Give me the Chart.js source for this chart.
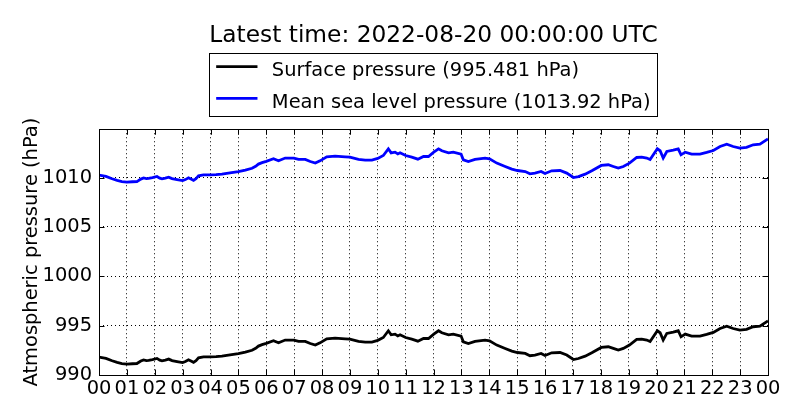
<!DOCTYPE html>
<html>
<head>
<meta charset="utf-8">
<title>Atmospheric pressure</title>
<script src="https://cdn.jsdelivr.net/npm/chart.js"></script>
<style>
  html, body { margin: 0; padding: 0; background: #fff; }
  #wrap { width: 800px; height: 420px; }
</style>
</head>
<body>
<div id="wrap"><canvas id="pressureChart" width="800" height="420"></canvas></div>
<script>
// hours since 2022-08-19 00:00 UTC
const hours = [
  0.00, 0.25, 0.47, 0.65, 0.82, 1.00, 1.20, 1.36, 1.50, 1.60, 1.70, 1.78, 1.92, 2.08, 2.18, 2.26,
  2.38, 2.50, 2.62, 2.80, 3.00, 3.10, 3.21, 3.30, 3.39, 3.48, 3.57, 3.75, 4.00, 4.20, 4.41, 4.70,
  5.00, 5.25, 5.49, 5.62, 5.72, 5.85, 6.00, 6.26, 6.44, 6.68, 6.99, 7.16, 7.40, 7.58, 7.76, 7.93,
  8.17, 8.47, 8.83, 9.00, 9.31, 9.55, 9.79, 10.00, 10.20, 10.38, 10.48, 10.62, 10.72, 10.80, 11.00, 11.22,
  11.44, 11.64, 11.82, 12.01, 12.18, 12.30, 12.54, 12.71, 12.99, 13.07, 13.25, 13.49, 13.85, 14.01, 14.27, 14.57,
  14.81, 15.01, 15.29, 15.46, 15.64, 15.86, 16.00, 16.24, 16.54, 16.78, 17.02, 17.20, 17.44, 17.68, 18.02, 18.27,
  18.45, 18.63, 18.81, 19.03, 19.29, 19.47, 19.65, 19.77, 20.03, 20.13, 20.24, 20.37, 20.60, 20.78, 20.88, 21.03,
  21.26, 21.56, 21.80, 22.04, 22.28, 22.52, 22.75, 22.99, 23.23, 23.47, 23.71, 24.00
];

const surfacePressure = [
  991.81, 991.68, 991.44, 991.28, 991.16, 991.11, 991.14, 991.16, 991.41, 991.53, 991.46, 991.48, 991.56, 991.68, 991.51, 991.44,
  991.51, 991.61, 991.46, 991.36, 991.26, 991.36, 991.54, 991.41, 991.28, 991.46, 991.74, 991.84, 991.84, 991.86, 991.91, 992.04,
  992.16, 992.31, 992.51, 992.71, 992.93, 993.08, 993.21, 993.47, 993.26, 993.54, 993.54, 993.40, 993.40, 993.19, 993.03, 993.26,
  993.67, 993.74, 993.67, 993.64, 993.40, 993.33, 993.33, 993.51, 993.80, 994.48, 994.07, 994.14, 993.96, 994.07, 993.80, 993.64,
  993.43, 993.70, 993.70, 994.14, 994.48, 994.28, 994.07, 994.14, 993.94, 993.36, 993.19, 993.40, 993.54, 993.47, 993.03, 992.69,
  992.42, 992.28, 992.18, 991.95, 992.02, 992.18, 991.98, 992.25, 992.28, 992.02, 991.57, 991.67, 991.91, 992.25, 992.79, 992.86,
  992.69, 992.52, 992.69, 993.03, 993.60, 993.64, 993.54, 993.40, 994.48, 994.28, 993.54, 994.21, 994.34, 994.48, 993.87, 994.14,
  993.94, 993.94, 994.11, 994.31, 994.71, 994.95, 994.71, 994.55, 994.62, 994.89, 994.95, 995.48
];

const mslPressure = [
  1010.25, 1010.12, 1009.88, 1009.72, 1009.60, 1009.55, 1009.58, 1009.60, 1009.85, 1009.97, 1009.90, 1009.92, 1010.00, 1010.12, 1009.95, 1009.88,
  1009.95, 1010.05, 1009.90, 1009.80, 1009.70, 1009.80, 1009.98, 1009.85, 1009.72, 1009.90, 1010.18, 1010.28, 1010.28, 1010.30, 1010.35, 1010.48,
  1010.60, 1010.75, 1010.95, 1011.15, 1011.37, 1011.52, 1011.65, 1011.91, 1011.70, 1011.98, 1011.98, 1011.84, 1011.84, 1011.63, 1011.47, 1011.70,
  1012.11, 1012.18, 1012.11, 1012.08, 1011.84, 1011.77, 1011.77, 1011.95, 1012.24, 1012.92, 1012.51, 1012.58, 1012.40, 1012.51, 1012.24, 1012.08,
  1011.87, 1012.14, 1012.14, 1012.58, 1012.92, 1012.72, 1012.51, 1012.58, 1012.38, 1011.80, 1011.63, 1011.84, 1011.98, 1011.91, 1011.47, 1011.13,
  1010.86, 1010.72, 1010.62, 1010.39, 1010.46, 1010.62, 1010.42, 1010.69, 1010.72, 1010.46, 1010.01, 1010.11, 1010.35, 1010.69, 1011.23, 1011.30,
  1011.13, 1010.96, 1011.13, 1011.47, 1012.04, 1012.08, 1011.98, 1011.84, 1012.92, 1012.72, 1011.98, 1012.65, 1012.78, 1012.92, 1012.31, 1012.58,
  1012.38, 1012.38, 1012.55, 1012.75, 1013.15, 1013.39, 1013.15, 1012.99, 1013.06, 1013.33, 1013.39, 1013.92
];

const hourLabels = ['00', '01', '02', '03', '04', '05', '06', '07', '08', '09', '10', '11',
  '12', '13', '14', '15', '16', '17', '18', '19', '20', '21', '22', '23', '00'];
const pressureTicks = [990, 995, 1000, 1005, 1010];

const FONT = "'DejaVu Sans', sans-serif";
const FS = 19.44;

Chart.defaults.font.family = FONT;
Chart.defaults.color = '#000';

// matplotlib-ish frame with inward ticks on all four sides
const framePlugin = {
  id: 'frame',
  afterDraw(chart) {
    const { ctx, chartArea: a, scales: { x, y } } = chart;
    const len = 5.5;
    ctx.save();
    ctx.strokeStyle = '#000';
    ctx.lineWidth = 1;
    ctx.beginPath();
    x.ticks.forEach((t) => {
      const px = Math.round(x.getPixelForValue(t.value)) + 0.5;
      ctx.moveTo(px, a.bottom); ctx.lineTo(px, a.bottom - len);
      ctx.moveTo(px, a.top); ctx.lineTo(px, a.top + len);
    });
    y.ticks.forEach((t) => {
      const py = Math.round(y.getPixelForValue(t.value)) + 0.5;
      ctx.moveTo(a.left, py); ctx.lineTo(a.left + len, py);
      ctx.moveTo(a.right, py); ctx.lineTo(a.right - len, py);
    });
    ctx.stroke();
    ctx.strokeRect(Math.round(a.left) + 0.5, Math.round(a.top) + 0.5,
      Math.round(a.width), Math.round(a.height));
    ctx.restore();
  }
};

// boxed legend above the plot, entries stacked and left aligned
const legendBoxPlugin = {
  id: 'legendBox',
  afterDraw(chart) {
    const { ctx, chartArea: a } = chart;
    const sets = chart.data.datasets;
    ctx.save();
    ctx.font = FS + 'px ' + FONT;
    const textW = Math.max(...sets.map((d) => ctx.measureText(d.label).width));
    const boxW = 6.7 + 41.3 + 14.4 + textW + 7;
    const left = (a.left + a.right) / 2 - boxW / 2;
    const top = 53.3;
    ctx.fillStyle = '#fff';
    ctx.fillRect(left, top, boxW, 63.4);
    ctx.strokeStyle = '#000';
    ctx.lineWidth = 1;
    ctx.strokeRect(Math.round(left) + 0.5, Math.round(top) + 0.5, Math.round(boxW), 63);
    sets.forEach((d, i) => {
      const ly = 66.7 + i * 31.6;
      ctx.strokeStyle = d.borderColor;
      ctx.lineWidth = d.borderWidth;
      ctx.beginPath();
      ctx.moveTo(left + 6.7, ly);
      ctx.lineTo(left + 48, ly);
      ctx.stroke();
      ctx.fillStyle = '#000';
      ctx.textBaseline = 'alphabetic';
      ctx.fillText(d.label, left + 62.4, 76.2 + i * 31.6);
    });
    ctx.restore();
  }
};

const ctx = document.getElementById('pressureChart').getContext('2d');
new Chart(ctx, {
  type: 'line',
  data: {
    datasets: [
      {
        label: 'Surface pressure (995.481 hPa)',
        data: hours.map((h, i) => ({ x: h, y: surfacePressure[i] })),
        borderColor: '#000000',
        borderWidth: 2.8,
        pointRadius: 0,
        tension: 0,
      },
      {
        label: 'Mean sea level pressure (1013.92 hPa)',
        data: hours.map((h, i) => ({ x: h, y: mslPressure[i] })),
        borderColor: '#0000ff',
        borderWidth: 2.8,
        pointRadius: 0,
        tension: 0,
      },
    ],
  },
  options: {
    responsive: false,
    animation: false,
    devicePixelRatio: 1,
    layout: { padding: { top: 0, right: 32, bottom: 22, left: 0 } },
    plugins: {
      legend: { display: false },
      tooltip: { enabled: false },
      title: {
        display: true,
        text: 'Latest time: 2022-08-20 00:00:00 UTC',
        fullSize: false,
        color: '#000',
        font: { size: 23.3, weight: 'normal' },
        padding: { top: 21.5, bottom: 79.8 },
      },
    },
    scales: {
      x: {
        type: 'linear',
        min: 0,
        max: 24,
        afterFit: (scale) => { scale.height = 23; },
        afterBuildTicks: (scale) => {
          scale.ticks = hourLabels.map((_, i) => ({ value: i }));
        },
        ticks: {
          autoSkip: false,
          maxRotation: 0,
          padding: 2,
          font: { size: FS },
          callback: (value) => hourLabels[value],
        },
        grid: { color: '#000', lineWidth: 1, drawTicks: false },
        border: { display: false, dash: [1, 3] },
      },
      y: {
        min: 990,
        max: 1014.9,
        afterFit: (scale) => { scale.width = 99; },
        afterBuildTicks: (scale) => {
          scale.ticks = pressureTicks.map((v) => ({ value: v }));
        },
        ticks: {
          padding: 7,
          font: { size: FS },
          callback: (value) => String(value),
        },
        grid: { color: '#000', lineWidth: 1, drawTicks: false },
        border: { display: false, dash: [1, 3] },
        title: {
          display: true,
          text: 'Atmospheric pressure (hPa)',
          font: { size: FS },
          padding: { top: 19.8, bottom: 0 },
        },
      },
    },
  },
  plugins: [framePlugin, legendBoxPlugin],
});
</script>
</body>
</html>
